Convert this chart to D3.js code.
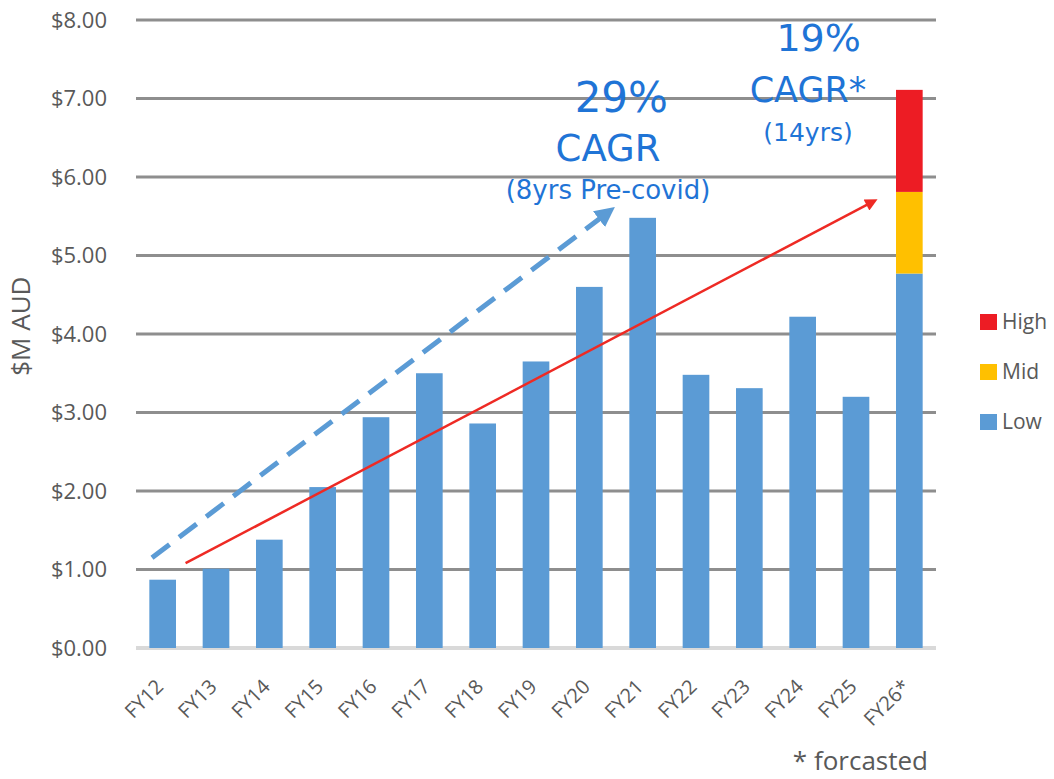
<!DOCTYPE html>
<html>
<head>
<meta charset="utf-8">
<script src="https://cdn.jsdelivr.net/npm/d3@7"></script>
<style>
  html, body { margin: 0; padding: 0; background: #fff; }
  svg { display: block; }
</style>
</head>
<body>
<div id="chart"></div>
<script>
// data
const years = ['FY12', 'FY13', 'FY14', 'FY15', 'FY16', 'FY17', 'FY18', 'FY19', 'FY20', 'FY21', 'FY22', 'FY23', 'FY24', 'FY25', 'FY26*'];
const lowValues = [0.87, 1.01, 1.38, 2.05, 2.94, 3.50, 2.86, 3.65, 4.60, 5.48, 3.48, 3.31, 4.22, 3.20, 4.77];
const midValues = [0, 0, 0, 0, 0, 0, 0, 0, 0, 0, 0, 0, 0, 0, 1.04];
const highValues = [0, 0, 0, 0, 0, 0, 0, 0, 0, 0, 0, 0, 0, 0, 1.30];
const seriesNames = ['Low', 'Mid', 'High'];
const yTicks = [0, 1, 2, 3, 4, 5, 6, 7, 8];

// trend arrows: [category index, value]
const precovidArrow = { from: [-0.2, 1.15], to: [8.33, 5.54] };
const overallArrow = { from: [0.43, 1.08], to: [13.3, 5.68] };

const width = 1054;
const height = 779;
const margin = { top: 20, right: 118, bottom: 131, left: 136 };

const colors = { Low: '#5b9bd5', Mid: '#ffc000', High: '#ed1c24' };
const textGray = '#595959';
const annoBlue = '#1f74d6';
const axisFont = '"Open Sans", sans-serif';
const annoFont = '"DejaVu Sans", sans-serif';

const svg = d3.select('#chart').append('svg')
  .attr('width', width)
  .attr('height', height);

const x = d3.scaleBand()
  .domain(years)
  .range([margin.left, width - margin.right])
  .paddingInner(0.5)
  .paddingOuter(0.25);

const y = d3.scaleLinear()
  .domain([0, 8])
  .range([height - margin.bottom, margin.top]);

// index -> pixel, for things that sit between bars
const xi = d3.scaleLinear()
  .domain([0, years.length - 1])
  .range([x(years[0]) + x.bandwidth() / 2, x(years[years.length - 1]) + x.bandwidth() / 2]);

// grid lines
svg.append('g')
  .selectAll('line')
  .data(yTicks)
  .enter().append('line')
  .attr('x1', margin.left)
  .attr('x2', width - margin.right)
  .attr('y1', d => y(d))
  .attr('y2', d => y(d))
  .attr('stroke', d => d === 0 ? '#d9d9d9' : '#8e8e8e')
  .attr('stroke-width', d => d === 0 ? 4 : 3);

// y labels
svg.append('g')
  .selectAll('text')
  .data(yTicks)
  .enter().append('text')
  .attr('x', 107)
  .attr('y', d => y(d))
  .attr('dy', '0.35em')
  .attr('text-anchor', 'end')
  .style('font-family', axisFont)
  .style('font-size', '22px')
  .style('fill', textGray)
  .text(d => '$' + d.toFixed(2));

svg.append('text')
  .attr('transform', `translate(30, ${y(4.1)}) rotate(-90)`)
  .attr('text-anchor', 'middle')
  .style('font-family', axisFont)
  .style('font-size', '26px')
  .style('fill', textGray)
  .text('$M AUD');

// stacked bars
const table = years.map((yr, i) => ({ year: yr, Low: lowValues[i], Mid: midValues[i], High: highValues[i] }));
const stack = d3.stack().keys(seriesNames)(table);

svg.append('g')
  .selectAll('g')
  .data(stack)
  .enter().append('g')
  .attr('fill', d => colors[d.key])
  .selectAll('rect')
  .data(d => d.filter(s => s[1] - s[0] > 0))
  .enter().append('rect')
  .attr('x', d => x(d.data.year))
  .attr('width', x.bandwidth())
  .attr('y', d => y(d[1]))
  .attr('height', d => y(d[0]) - y(d[1]));

// x labels
svg.append('g')
  .selectAll('text')
  .data(years)
  .enter().append('text')
  .attr('transform', d => `translate(${x(d) + x.bandwidth() / 2 + 2}, ${y(0) + 40}) rotate(-45)`)
  .attr('text-anchor', 'end')
  .style('font-family', axisFont)
  .style('font-size', '20px')
  .style('fill', textGray)
  .text(d => d);

// arrows
const defs = svg.append('defs');
defs.append('marker')
  .attr('id', 'headBlue')
  .attr('viewBox', '0 0 10 10')
  .attr('refX', 5).attr('refY', 5)
  .attr('markerWidth', 4).attr('markerHeight', 4)
  .attr('orient', 'auto')
  .append('path').attr('d', 'M0,0 L10,5 L0,10 Z').attr('fill', colors.Low);
defs.append('marker')
  .attr('id', 'headRed')
  .attr('viewBox', '0 0 10 10')
  .attr('refX', 5).attr('refY', 5)
  .attr('markerWidth', 6).attr('markerHeight', 5)
  .attr('orient', 'auto')
  .append('path').attr('d', 'M0,0 L10,5 L0,10 Z').attr('fill', '#ee2a24');

svg.append('line')
  .attr('x1', xi(precovidArrow.from[0])).attr('y1', y(precovidArrow.from[1]))
  .attr('x2', xi(precovidArrow.to[0])).attr('y2', y(precovidArrow.to[1]))
  .attr('stroke', colors.Low)
  .attr('stroke-width', 5)
  .attr('stroke-dasharray', '22,12')
  .attr('marker-end', 'url(#headBlue)');

svg.append('line')
  .attr('x1', xi(overallArrow.from[0])).attr('y1', y(overallArrow.from[1]))
  .attr('x2', xi(overallArrow.to[0])).attr('y2', y(overallArrow.to[1]))
  .attr('stroke', '#ee2a24')
  .attr('stroke-width', 2.5)
  .attr('marker-end', 'url(#headRed)');

// CAGR annotations
const annotations = [
  { text: '29%', i: 8.6, v: 6.83, size: 42 },
  { text: 'CAGR', i: 8.35, v: 6.2, size: 37 },
  { text: '(8yrs Pre-covid)', i: 8.35, v: 5.72, size: 26 },
  { text: '19%', i: 12.3, v: 7.6, size: 38 },
  { text: 'CAGR*', i: 12.1, v: 6.96, size: 35 },
  { text: '(14yrs)', i: 12.1, v: 6.46, size: 25 }
];
svg.append('g')
  .selectAll('text')
  .data(annotations)
  .enter().append('text')
  .attr('x', d => xi(d.i))
  .attr('y', d => y(d.v))
  .attr('text-anchor', 'middle')
  .style('font-family', annoFont)
  .style('font-size', d => d.size + 'px')
  .style('fill', annoBlue)
  .text(d => d.text);

// legend
const legend = svg.append('g')
  .selectAll('g')
  .data(seriesNames.slice().reverse())
  .enter().append('g')
  .attr('transform', (d, i) => `translate(980, ${314 + i * 50})`);
legend.append('rect')
  .attr('width', 17).attr('height', 16)
  .attr('fill', d => colors[d]);
legend.append('text')
  .attr('x', 22).attr('y', 8).attr('dy', '0.35em')
  .style('font-family', axisFont)
  .style('font-size', '21px')
  .style('fill', textGray)
  .text(d => d);

svg.append('text')
  .attr('x', 928).attr('y', 770)
  .attr('text-anchor', 'end')
  .style('font-family', axisFont)
  .style('font-size', '26px')
  .style('fill', textGray)
  .text('* forcasted');
</script>
</body>
</html>
